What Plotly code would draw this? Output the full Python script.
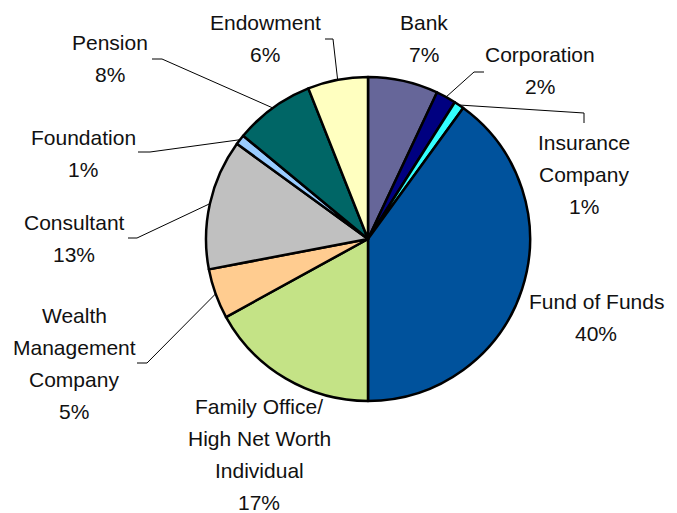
import math
import plotly.graph_objects as go

# Investor-type breakdown (share of total, %)
categories = [
    "Bank", "Corporation", "Insurance Company", "Fund of Funds",
    "Family Office/ High Net Worth Individual", "Wealth Management Company",
    "Consultant", "Foundation", "Pension", "Endowment",
]
shares = [7, 2, 1, 40, 17, 5, 13, 1, 8, 6]

# How each category name is broken over lines in its label
label_lines = [
    ["Bank"], ["Corporation"], ["Insurance", "Company"], ["Fund of Funds"],
    ["Family Office/", "High Net Worth", "Individual"],
    ["Wealth", "Management", "Company"],
    ["Consultant"], ["Foundation"], ["Pension"], ["Endowment"],
]

colors = [
    "#666699", "#000080", "#33FFFF", "#00529C", "#C4E386",
    "#FFCC90", "#C0C0C0", "#99CCFF", "#006666", "#FFFFC0",
]

# ---- layout (pixels) ----
W, H = 677, 513
CX, CY, R = 368, 239, 162
LINE_H = 32
FONT = "Liberation Sans Narrow, Arial Narrow, Liberation Sans, Arial, sans-serif"
FONT_SIZE = 21

# label anchor: centre x, centre y of first line
label_pos = [
    (424, 22), (540, 55), (584, 143), (596, 301), (259, 406),
    (74, 315), (74, 222), (83, 137), (110, 43), (265, 22),
]
# leader line elbow and end point (None = no leader)
leaders = [
    None,
    ((474, 72), (484, 72)),
    ((584, 113), (584, 123)),
    None,
    None,
    ((147, 363), (137, 363)),
    ((137, 238), (128, 238)),
    ((150, 152), (138, 152)),
    ((162, 59), (152, 59)),
    ((333, 39), (325, 39)),
]


def px(x):
    return x / W


def py(y):
    return 1 - y / H


fig = go.Figure(
    go.Pie(
        values=shares,
        labels=categories,
        sort=False,
        direction="clockwise",
        rotation=0,
        textinfo="none",
        hoverinfo="label+percent",
        marker=dict(colors=colors, line=dict(color="#000000", width=2.5)),
        domain=dict(x=[px(CX - R), px(CX + R)], y=[py(CY + R), py(CY - R)]),
        showlegend=False,
    )
)

total = sum(shares)
annotations = []
shapes = []
cum = 0
for i, v in enumerate(shares):
    mid = 2 * math.pi * (cum + v / 2) / total
    cum += v
    lines = label_lines[i] + [f"{v / total * 100:.0f}%"]
    lx, ly = label_pos[i]
    for k, t in enumerate(lines):
        annotations.append(dict(
            x=px(lx), y=py(ly + k * LINE_H), xref="paper", yref="paper",
            text=t, showarrow=False, xanchor="center", yanchor="middle",
            font=dict(family=FONT, size=FONT_SIZE, color="#111111"),
        ))
    if leaders[i] is not None:
        sx = CX + R * math.sin(mid)
        sy = CY - R * math.cos(mid)
        (ex, ey), (fx, fy) = leaders[i]
        path = (f"M {px(sx)},{py(sy)} L {px(ex)},{py(ey)} "
                f"L {px(fx)},{py(fy)}")
        shapes.append(dict(type="path", xref="paper", yref="paper", path=path,
                           line=dict(color="#000000", width=1)))

fig.update_layout(
    width=W, height=H,
    margin=dict(l=0, r=0, t=0, b=0),
    paper_bgcolor="#FFFFFF",
    plot_bgcolor="#FFFFFF",
    annotations=annotations,
    shapes=shapes,
)

fig.write_html("out.html")
